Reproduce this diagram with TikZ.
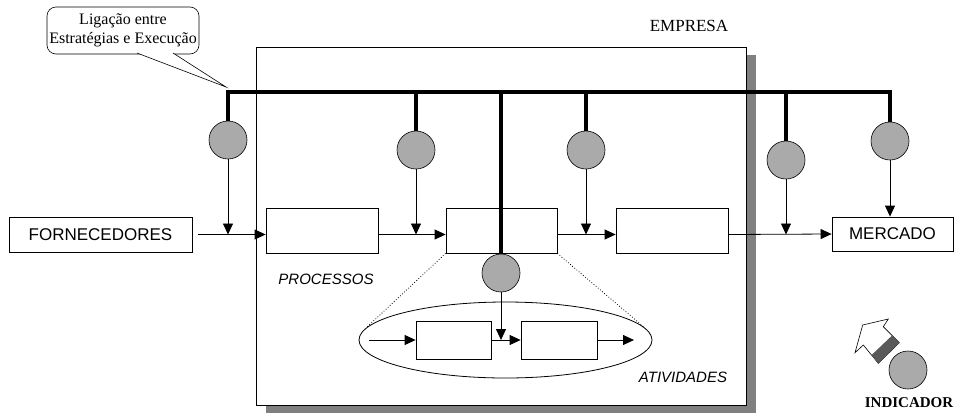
\documentclass[tikz,border=0pt]{standalone}
\usepackage{fontspec}
\setmainfont{Liberation Serif}
\setsansfont{Liberation Sans}
\usetikzlibrary{arrows.meta,shapes.geometric,shadows}
\definecolor{indgray}{RGB}{170,170,170}
\definecolor{shadegray}{RGB}{128,128,128}

\begin{document}
\begin{tikzpicture}[x=1pt,y=-1pt,
    box/.style={draw,line width=0.8pt,inner sep=0},
    ind/.style={circle,draw,line width=0.6pt,fill=indgray,minimum size=38pt,inner sep=0},
    flow/.style={line width=0.8pt,-{Triangle[length=11pt,width=10pt]}},
    bus/.style={line width=3.5pt},
    boxfont/.style={font=\sffamily\fontsize{17}{20}\selectfont},
    lblfont/.style={font=\sffamily\itshape\fontsize{15}{18}\selectfont}]
  \useasboundingbox (0,0) rectangle (956,413);

  \node [box, fill=white, minimum width=490pt, minimum height=358pt,
         drop shadow={shadow xshift=10pt, shadow yshift=-8pt, fill=shadegray, opacity=1}] (empresa) at (501,226) {};
  \node [font=\fontsize{17}{20}\selectfont] (emplbl) at (689,26) {EMPRESA};

  \node [box, boxfont, minimum width=183pt, minimum height=35pt] (forn) at (100.5,234.5) {FORNECEDORES};
  \node [box, minimum width=112pt, minimum height=45pt] (p1) at (322,230.5) {};
  \node [box, minimum width=111pt, minimum height=45pt] (p2) at (501.5,230.5) {};
  \node [box, minimum width=112pt, minimum height=45pt] (p3) at (672,230.5) {};
  \node [box, boxfont, minimum width=121pt, minimum height=34pt] (merc) at (892.5,234) {MERCADO};

  \draw [flow] ([xshift=6pt]forn.east) -- (forn.east -| p1.west);
  \draw [flow] (p1.east |- forn.east) -- (forn.east -| p2.west);
  \draw [flow] (p2.east |- forn.east) -- (forn.east -| p3.west);
  \draw [flow] (p3.east |- forn.east) -- (merc.west);

  \node [lblfont] (proclbl) at (326,279) {PROCESSOS};

  \node [draw, ellipse, line width=0.8pt, minimum width=293pt, minimum height=76pt, inner sep=0] (ativ) at (505.5,340) {};
  \node [box, minimum width=75pt, minimum height=38pt] (a1) at (453.5,340) {};
  \node [box, minimum width=76pt, minimum height=38pt] (a2) at (559,340) {};
  \coordinate (ain) at (369,340);
  \coordinate (aout) at (634,340);
  \draw [flow] (ain) -- (a1.west);
  \draw [flow] (a1) -- (a2);
  \draw [flow] (a2) -- (aout);
  \draw [dotted, line width=0.8pt] (p2.south west) -- (ativ.175);
  \draw [dotted, line width=0.8pt] (p2.south east) -- (ativ.5);
  \node [lblfont] (ativlbl) at (683,377) {ATIVIDADES};

  \foreach \name/\x/\y in {i1/228/140, i2/416/150, i4/586/150, i5/786/160, i6/890/141}
    \node [ind] (\name) at (\x,\y) {};
  \node [ind] (ic) at (501,273) {};

  \coordinate (top) at (0,92);
  \draw [bus] (i1.north) -- (i1 |- top) -- (i6 |- top) -- (i6.north);
  \foreach \name in {i2,i4,i5,ic}
    \draw [bus] (\name |- top) -- (\name.north);

  \foreach \name in {i1,i2,i4,i5}
    \draw [flow] (\name.south) -- (\name |- forn.east);
  \draw [flow] (i6.south) -- (i6 |- merc.north);
  \draw [flow] (ic.south) -- (ic |- a1.west);

  \node [draw, rounded corners=9pt, line width=0.6pt, minimum width=152pt, minimum height=47pt,
         inner sep=1pt, align=center, font=\fontsize{16}{19}\selectfont] (callout) at (123,30.5)
        {Ligação entre\\Estratégias e Execução};
  \coordinate (tip) at (226,87);
  \draw [fill=white, line width=0.6pt] (137,53) -- (tip) -- (173,53);

  \node [ind] (legind) at (908,370) {};
  \draw [fill=white, line width=0.6pt] (862.7,325) -- (888.3,319) -- (883.3,326.7) -- (899.3,342.7)
        -- (878.3,363.3) -- (863.3,345) -- (855,352.7) -- cycle;
  \fill [black!65] (892.1,335.5) -- (899.3,342.7) -- (878.3,363.3) -- (871.5,355.1) -- cycle;
  \node [font=\bfseries\fontsize{15}{18}\selectfont] (leglbl) at (909,403) {INDICADOR};
\end{tikzpicture}
\end{document}
